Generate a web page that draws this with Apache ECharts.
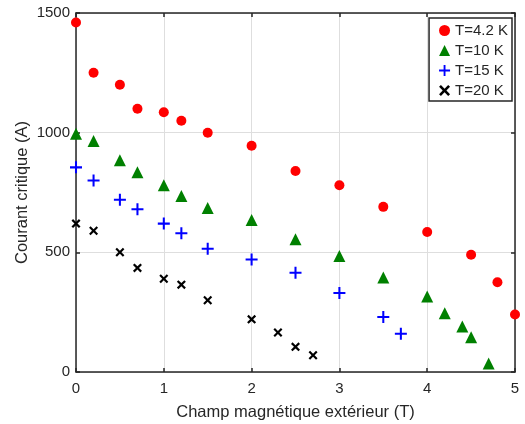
<!DOCTYPE html>
<html>
<head>
<meta charset="utf-8">
<script src="https://cdn.jsdelivr.net/npm/echarts@6/dist/echarts.min.js"></script>
<style>html,body{margin:0;padding:0;background:#fff;}#c{width:525px;height:424px;}</style>
</head>
<body>
<div id="c"></div>
<script>
var xTicks = [0, 1, 2, 3, 4, 5];
var yTicks = [0, 500, 1000, 1500];

var x42 = [0, 0.2, 0.5, 0.7, 1.0, 1.2, 1.5, 2.0, 2.5, 3.0, 3.5, 4.0, 4.5, 4.8, 5.0];
var y42 = [1460, 1250, 1200, 1100, 1085, 1050, 1000, 945, 840, 780, 690, 585, 490, 375, 240];

var x10 = [0, 0.2, 0.5, 0.7, 1.0, 1.2, 1.5, 2.0, 2.5, 3.0, 3.5, 4.0, 4.2, 4.4, 4.5, 4.7];
var y10 = [995, 965, 885, 835, 780, 735, 685, 635, 555, 485, 395, 315, 245, 190, 145, 35];

var x15 = [0, 0.2, 0.5, 0.7, 1.0, 1.2, 1.5, 2.0, 2.5, 3.0, 3.5, 3.7];
var y15 = [855, 800, 720, 680, 620, 580, 515, 470, 415, 330, 230, 160];

var x20 = [0, 0.2, 0.5, 0.7, 1.0, 1.2, 1.5, 2.0, 2.3, 2.5, 2.7];
var y20 = [620, 590, 500, 435, 390, 365, 300, 220, 165, 105, 70];

var names = ['T=4.2 K', 'T=10 K', 'T=15 K', 'T=20 K'];

function pairs(xs, ys) { return xs.map(function (x, i) { return [x, ys[i]]; }); }

var PLUS = 'path://M4.15,0H5.85V4.15H10V5.85H5.85V10H4.15V5.85H0V4.15H4.15Z';
var CROSS = 'path://M0,1.7L1.7,0L5,3.3L8.3,0L10,1.7L6.7,5L10,8.3L8.3,10L5,6.7L1.7,10L0,8.3L3.3,5Z';

var axisColor = '#262626';
var font = 'Liberation Sans, Arial, Helvetica, sans-serif';

var chart = echarts.init(document.getElementById('c'), null, {renderer: 'canvas'});
chart.setOption({
  animation: false,
  backgroundColor: '#fff',
  grid: {left: 76, right: 10, top: 13, bottom: 52, containLabel: false, outerBoundsMode: 'none'},
  xAxis: [{
    type: 'value', min: xTicks[0], max: xTicks[xTicks.length - 1], interval: 1,
    name: 'Champ magnétique extérieur (T)', nameLocation: 'middle', nameGap: 32, nameMoveOverlap: false,
    nameTextStyle: {color: axisColor, fontSize: 16.5, fontFamily: font},
    axisLine: {show: true, onZero: false, lineStyle: {color: axisColor, width: 1.5}},
    axisTick: {show: true, inside: true, length: 4, lineStyle: {color: axisColor, width: 1.5}},
    axisLabel: {color: axisColor, fontSize: 15, fontFamily: font, margin: 9},
    splitLine: {show: true, lineStyle: {color: '#dedede', width: 1}}
  }, {
    type: 'value', position: 'top', min: xTicks[0], max: xTicks[xTicks.length - 1], interval: 1,
    axisLine: {show: true, onZero: false, lineStyle: {color: axisColor, width: 1.5}},
    axisTick: {show: true, inside: true, length: 4, lineStyle: {color: axisColor, width: 1.5}},
    axisLabel: {show: false}, splitLine: {show: false}
  }],
  yAxis: [{
    type: 'value', min: yTicks[0], max: yTicks[yTicks.length - 1], interval: 500,
    name: 'Courant critique (A)', nameLocation: 'middle', nameGap: 45, nameMoveOverlap: false,
    nameTextStyle: {color: axisColor, fontSize: 16.5, fontFamily: font},
    axisLine: {show: true, onZero: false, lineStyle: {color: axisColor, width: 1.5}},
    axisTick: {show: true, inside: true, length: 4, lineStyle: {color: axisColor, width: 1.5}},
    axisLabel: {color: axisColor, fontSize: 15, fontFamily: font, margin: 6,
                formatter: function (v) { return String(v); }},
    splitLine: {show: true, lineStyle: {color: '#dedede', width: 1}}
  }, {
    type: 'value', position: 'right', min: yTicks[0], max: yTicks[yTicks.length - 1], interval: 500,
    axisLine: {show: true, onZero: false, lineStyle: {color: axisColor, width: 1.5}},
    axisTick: {show: true, inside: true, length: 4, lineStyle: {color: axisColor, width: 1.5}},
    axisLabel: {show: false}, splitLine: {show: false}
  }],
  legend: {
    orient: 'vertical', right: 13, top: 18,
    backgroundColor: '#fff', borderColor: axisColor, borderWidth: 1.5,
    padding: [5, 4, 3, 10], itemGap: 5, itemWidth: 11, itemHeight: 11,
    textStyle: {color: axisColor, fontSize: 15, fontFamily: font, lineHeight: 15},
    data: names
  },
  series: [
    {name: names[0], type: 'scatter', clip: false, symbol: 'circle', symbolSize: 10,
     itemStyle: {color: '#ff0000', opacity: 1}, data: pairs(x42, y42)},
    {name: names[1], type: 'scatter', clip: false, symbol: 'triangle', symbolSize: 12,
     itemStyle: {color: '#008000', opacity: 1}, data: pairs(x10, y10)},
    {name: names[2], type: 'scatter', clip: false, symbol: PLUS, symbolSize: 12,
     itemStyle: {color: '#0000ff', opacity: 1}, data: pairs(x15, y15)},
    {name: names[3], type: 'scatter', clip: false, symbol: CROSS, symbolSize: 9,
     itemStyle: {color: '#000000', opacity: 1}, data: pairs(x20, y20)}
  ]
});
</script>
</body>
</html>
